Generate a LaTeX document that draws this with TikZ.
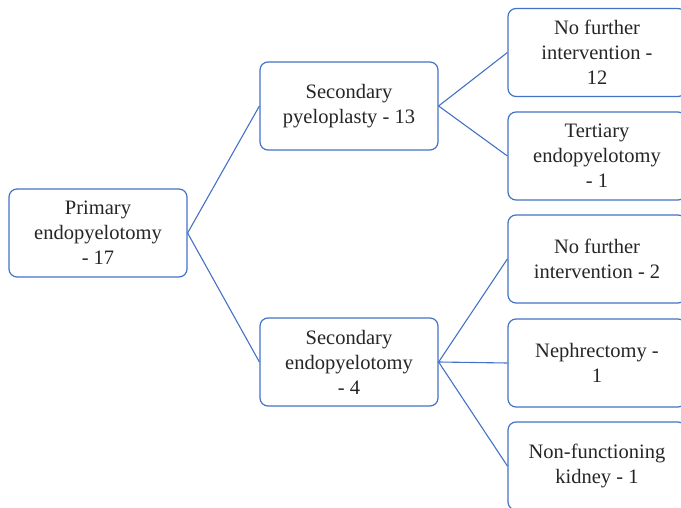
\documentclass[tikz,border=0pt]{standalone}
\usepackage{fontspec}
\setmainfont{Liberation Serif}
\usepackage{xcolor}
\definecolor{boxblue}{RGB}{68,114,196}
\newcommand\lineColor{boxblue}

\begin{document}
\begin{tikzpicture}[x=1pt, y=-1pt,
    box/.style={draw=\lineColor, line width=1.2pt, rounded corners=8pt, fill=white,
        minimum width=178pt, minimum height=88pt, inner sep=0pt, align=center,
        text=black!85, font=\fontsize{20.5}{25}\selectfont},
    link/.style={draw=\lineColor, line width=1.1pt}]
    \useasboundingbox (0,0) rectangle (681,508);
    \clip (0,0) rectangle (681,508);

    \node[box] (primary) at (98,233) {Primary\\endopyelotomy\\- 17};

    \node[box] (pyeloplasty) at (349,106) {Secondary\\pyeloplasty - 13};
    \node[box] (endopyelotomy) at (349,362) {Secondary\\endopyelotomy\\- 4};
    \draw[link] (primary.east) -- (pyeloplasty.west);
    \draw[link] (primary.east) -- (endopyelotomy.west);

    \node[box] (nofurtherA) at (597,52.5) {No further\\intervention -\\12};
    \node[box] (tertiary) at (597,156) {Tertiary\\endopyelotomy\\- 1};
    \draw[link] (pyeloplasty.east) -- (nofurtherA.west);
    \draw[link] (pyeloplasty.east) -- (tertiary.west);

    \node[box] (nofurtherB) at (597,259) {No further\\intervention - 2};
    \node[box] (nephrectomy) at (597,363) {Nephrectomy -\\1};
    \node[box] (nonfunctioning) at (597,466) {Non-functioning\\kidney - 1};
    \draw[link] (endopyelotomy.east) -- (nofurtherB.west);
    \draw[link] (endopyelotomy.east) -- (nephrectomy.west);
    \draw[link] (endopyelotomy.east) -- (nonfunctioning.west);
\end{tikzpicture}
\end{document}
